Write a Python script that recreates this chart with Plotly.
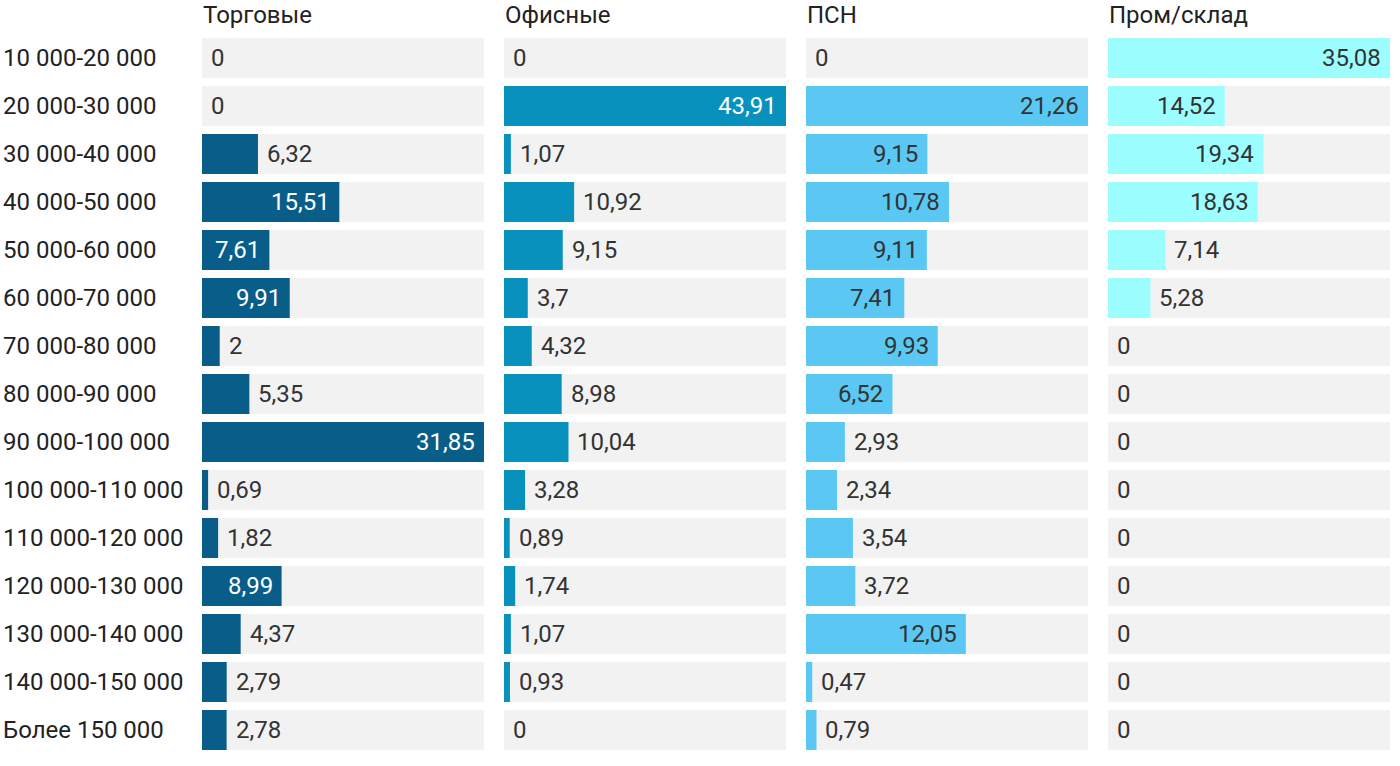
import plotly.graph_objects as go

categories = ["10 000-20 000", "20 000-30 000", "30 000-40 000", "40 000-50 000",
              "50 000-60 000", "60 000-70 000", "70 000-80 000", "80 000-90 000",
              "90 000-100 000", "100 000-110 000", "110 000-120 000", "120 000-130 000",
              "130 000-140 000", "140 000-150 000", "Более 150 000"]

panel_titles = ["Торговые", "Офисные", "ПСН", "Пром/склад"]

torgovye = [0, 0, 6.32, 15.51, 7.61, 9.91, 2, 5.35, 31.85, 0.69, 1.82, 8.99, 4.37, 2.79, 2.78]
ofisnye = [0, 43.91, 1.07, 10.92, 9.15, 3.7, 4.32, 8.98, 10.04, 3.28, 0.89, 1.74, 1.07, 0.93, 0]
psn = [0, 21.26, 9.15, 10.78, 9.11, 7.41, 9.93, 6.52, 2.93, 2.34, 3.54, 3.72, 12.05, 0.47, 0.79]
prom = [35.08, 14.52, 19.34, 18.63, 7.14, 5.28, 0, 0, 0, 0, 0, 0, 0, 0, 0]

series = [torgovye, ofisnye, psn, prom]
colors = ["#085e88", "#0891bd", "#5bc8f3", "#9cfefe"]
inside_text_colors = ["#ffffff", "#ffffff", "#333333", "#333333"]

W, H = 1400, 766
ML, MR, MT, MB = 202, 10, 34, 12
PW = W - ML - MR
panel_px = 282
gap_px = 20
FONT = "Roboto, Arial, sans-serif"
FS = 24
TXT = "#333333"


def fmt(v):
    s = ("%.2f" % v).rstrip("0").rstrip(".")
    return s.replace(".", ",")


def text_width(s):
    w = 0
    for ch in s:
        w += 5.0 if ch == "," else 13.5
    return w


fig = go.Figure()
annotations = []
for i, (vals, col) in enumerate(zip(series, colors)):
    xa = "x" if i == 0 else f"x{i+1}"
    ya = "y" if i == 0 else f"y{i+1}"
    vmax = max(vals)
    fig.add_trace(go.Bar(x=[vmax] * len(categories), y=categories, orientation="h",
                         marker=dict(color="#f2f2f2", line=dict(width=0)),
                         xaxis=xa, yaxis=ya, hoverinfo="skip", showlegend=False))
    fig.add_trace(go.Bar(x=vals, y=categories, orientation="h",
                         marker=dict(color=col, line=dict(width=0)),
                         xaxis=xa, yaxis=ya, showlegend=False,
                         hovertemplate="%{y}: %{x}<extra></extra>"))
    for c, v in zip(categories, vals):
        t = fmt(v)
        bar_px = v / vmax * panel_px
        inside = bar_px >= text_width(t) + 18
        annotations.append(dict(
            x=v, y=c, xref=xa, yref=ya, text=t, showarrow=False,
            xanchor="right" if inside else "left",
            xshift=-7 if inside else 7,
            font=dict(family=FONT, size=FS, color=inside_text_colors[i] if inside else TXT)))
    annotations.append(dict(
        x=0, y=1, xref=f"{xa} domain", yref="paper", text=panel_titles[i],
        showarrow=False, xanchor="left", yanchor="bottom", yshift=3, xshift=-1,
        font=dict(family=FONT, size=FS, color="#222222")))

for c in categories:
    annotations.append(dict(
        x=0, y=c, xref="paper", yref="y", text=c, showarrow=False,
        xanchor="left", xshift=-ML + 1,
        font=dict(family=FONT, size=FS, color="#222222")))

layout = dict(
    width=W, height=H,
    margin=dict(l=ML, r=MR, t=MT, b=MB, pad=0),
    paper_bgcolor="white", plot_bgcolor="white",
    barmode="overlay", bargap=8 / 48,
    annotations=annotations,
    font=dict(family=FONT, size=FS, color=TXT),
)
for i, vals in enumerate(series):
    d0 = i * (panel_px + gap_px) / PW
    d1 = min(1.0, d0 + panel_px / PW)
    xk = "xaxis" if i == 0 else f"xaxis{i+1}"
    yk = "yaxis" if i == 0 else f"yaxis{i+1}"
    layout[xk] = dict(domain=[d0, d1], range=[0, max(vals)], visible=False, fixedrange=True,
                      anchor="y" if i == 0 else f"y{i+1}")
    layout[yk] = dict(autorange="reversed", visible=False, fixedrange=True,
                      anchor="x" if i == 0 else f"x{i+1}",
                      categoryorder="array", categoryarray=categories)

fig.update_layout(**layout)
fig.write_html("out.html", config={"displayModeBar": False},
               post_script="document.body.style.margin='0';document.body.style.overflow='hidden';")
